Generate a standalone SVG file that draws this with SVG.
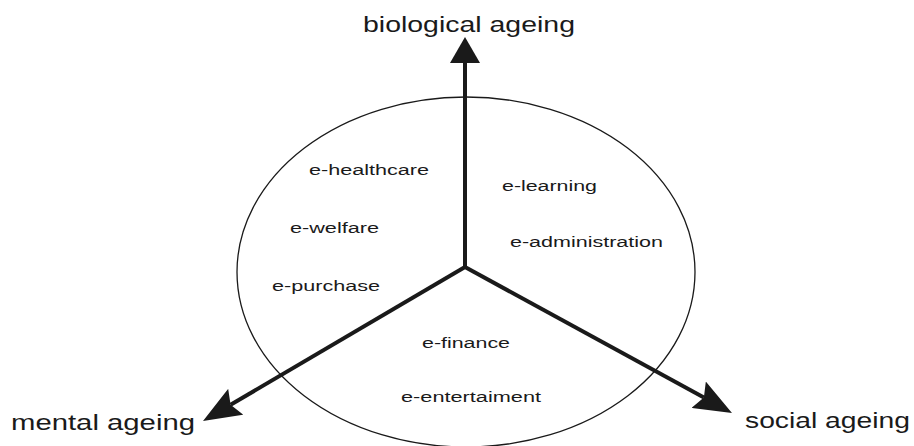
<svg xmlns="http://www.w3.org/2000/svg" width="914" height="446" viewBox="0 0 914 446">
  <style>
    .axis { stroke: #1a1a1a; stroke-width: 4; fill: none; }
    .ring { stroke: #1a1a1a; stroke-width: 1.3; fill: none; }
    .big { font-family: "Liberation Sans", Arial, sans-serif; font-size: 22px; fill: #1a1a1a; }
    .small { font-family: "Liberation Sans", Arial, sans-serif; font-size: 15.5px; fill: #1a1a1a; }
  </style>
  <defs>
    <marker id="head-long" markerUnits="userSpaceOnUse" viewBox="0 0 38 30" markerWidth="38" markerHeight="30" refX="6" refY="15" orient="auto">
      <path d="M0,0 L38,15 L0,30 L6,15 Z" fill="#1a1a1a"/>
    </marker>
    <marker id="head-short" markerUnits="userSpaceOnUse" viewBox="0 0 26 30" markerWidth="26" markerHeight="30" refX="2" refY="15" orient="auto">
      <path d="M0,0 L26,15 L0,30 Z" fill="#1a1a1a"/>
    </marker>
  </defs>

  <g id="circle">
    <ellipse class="ring" cx="466" cy="272" rx="229" ry="175"/>
  </g>

  <g id="connectors">
    <line class="axis" x1="465" y1="267" x2="465" y2="61" marker-end="url(#head-short)"/>
    <line class="axis" x1="465" y1="267" x2="230.6" y2="404.8" marker-end="url(#head-long)"/>
    <line class="axis" x1="465" y1="267" x2="703.9" y2="397.6" marker-end="url(#head-long)"/>
  </g>

  <g id="biological-ageing">
    <text class="big" x="363" y="32" textLength="212" lengthAdjust="spacingAndGlyphs">biological ageing</text>
  </g>
  <g id="mental-ageing">
    <text class="big" x="11" y="430" textLength="184" lengthAdjust="spacingAndGlyphs">mental ageing</text>
  </g>
  <g id="social-ageing">
    <text class="big" x="745" y="428" textLength="165" lengthAdjust="spacingAndGlyphs">social ageing</text>
  </g>

  <g id="e-healthcare">
    <text class="small" x="309" y="175" textLength="120" lengthAdjust="spacingAndGlyphs">e-healthcare</text>
  </g>
  <g id="e-welfare">
    <text class="small" x="290" y="233" textLength="89" lengthAdjust="spacingAndGlyphs">e-welfare</text>
  </g>
  <g id="e-purchase">
    <text class="small" x="272" y="291" textLength="108" lengthAdjust="spacingAndGlyphs">e-purchase</text>
  </g>
  <g id="e-learning">
    <text class="small" x="502" y="191" textLength="95" lengthAdjust="spacingAndGlyphs">e-learning</text>
  </g>
  <g id="e-administration">
    <text class="small" x="510" y="247" textLength="153" lengthAdjust="spacingAndGlyphs">e-administration</text>
  </g>
  <g id="e-finance">
    <text class="small" x="422" y="348" textLength="88" lengthAdjust="spacingAndGlyphs">e-finance</text>
  </g>
  <g id="e-entertaiment">
    <text class="small" x="401" y="402" textLength="140" lengthAdjust="spacingAndGlyphs">e-entertaiment</text>
  </g>
</svg>
